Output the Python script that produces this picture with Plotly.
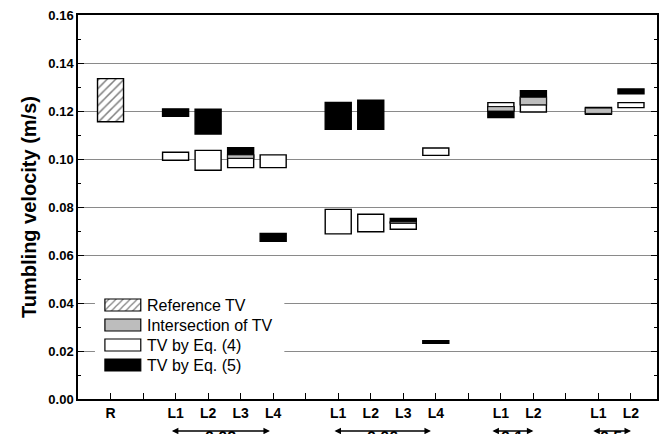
import numpy as np
import plotly.graph_objects as go

# ---- data -------------------------------------------------------------
tick_pos = list(range(1, 18))
tick_labels = ["R", "", "L1", "L2", "L3", "L4", "", "L1", "L2", "L3", "L4",
               "", "L1", "L2", "", "L1", "L2"]

ref_pos = [1]
ref_low = [0.1155]
ref_high = [0.1335]

case_pos = [3, 4, 5, 6, 8, 9, 10, 11, 13, 14, 16, 17]
eq4_low = [0.0995, 0.0953, 0.0964, 0.0964, 0.0688, 0.0697, 0.0707, 0.1015,
           0.1200, 0.1196, 0.1190, 0.1214]
eq4_high = [0.1028, 0.1036, 0.1017, 0.1017, 0.0790, 0.0770, 0.0738, 0.1046,
            0.1235, 0.1257, 0.1212, 0.1235]
eq5_low = [0.1178, 0.1104, 0.1003, 0.0657, 0.1124, 0.1124, 0.0733, 0.0232,
           0.1173, 0.1226, 0.1186, 0.1272]
eq5_high = [0.1209, 0.1207, 0.1047, 0.0690, 0.1236, 0.1245, 0.0752, 0.0243,
            0.1218, 0.1285, 0.1215, 0.1292]

group_labels = ["0.02", "0.06", "0.1", "0.5"]
group_spans = [(2.85, 5.9), (7.85, 10.85), (12.7, 14.0), (15.8, 17.0)]

legend_labels = ["Reference TV", "Intersection of TV", "TV by Eq. (4)", "TV by Eq. (5)"]

# ---- derived ranges ---------------------------------------------------
e4l, e4h = np.array(eq4_low), np.array(eq4_high)
e5l, e5h = np.array(eq5_low), np.array(eq5_high)
int_low = np.maximum(e4l, e5l)
int_high = np.minimum(e4h, e5h)
has_int = int_high > int_low
int_pos = [p for p, h in zip(case_pos, has_int) if h]

FONT = "Arial, Liberation Sans, sans-serif"
GREY = "#bdbdbd"
BW = 0.8
edge = dict(color="black", width=1.4)

fig = go.Figure()

# reference range (hatched)
fig.add_trace(go.Bar(
    x=ref_pos, base=ref_low, y=np.array(ref_high) - np.array(ref_low), width=BW,
    marker=dict(color="white", line=edge,
                pattern=dict(shape="/", fgcolor="black", bgcolor="white",
                             size=6, solidity=0.25)),
    showlegend=False, hoverinfo="skip"))

# Eq. (4) ranges
fig.add_trace(go.Bar(
    x=case_pos, base=e4l, y=e4h - e4l, width=BW,
    marker=dict(color="white", line=edge), showlegend=False, hoverinfo="skip"))

# Eq. (5) ranges
fig.add_trace(go.Bar(
    x=case_pos, base=e5l, y=e5h - e5l, width=BW,
    marker=dict(color="black", line=edge), showlegend=False, hoverinfo="skip"))

# overlap of both ranges
fig.add_trace(go.Bar(
    x=int_pos, base=int_low[has_int], y=(int_high - int_low)[has_int], width=BW,
    marker=dict(color=GREY, line=dict(color="black", width=0.8)),
    showlegend=False, hoverinfo="skip"))

# ---- legend panel (own small axes, pixel-like units) -------------------
LW, LH = 190, 86
rows = [13, 33, 53, 73]
sw_x0, sw_x1, sw_h = 10, 46, 12
fills = ["white", GREY, "white", "black"]

fig.add_trace(go.Bar(
    x=[LW / 2], base=[0], y=[LH], width=LW, xaxis="x2", yaxis="y2",
    marker=dict(color="white", line=dict(width=0)), showlegend=False, hoverinfo="skip"))
for i, (r, c) in enumerate(zip(rows, fills)):
    mk = dict(color=c, line=dict(color="black", width=1.2))
    if i == 0:
        mk["pattern"] = dict(shape="/", fgcolor="black", bgcolor="white", size=5, solidity=0.25)
    fig.add_trace(go.Bar(
        x=[(sw_x0 + sw_x1) / 2], base=[r - sw_h / 2], y=[sw_h], width=sw_x1 - sw_x0,
        xaxis="x2", yaxis="y2", marker=mk, showlegend=False, hoverinfo="skip"))
    fig.add_annotation(x=sw_x1 + 4, y=r, xref="x2", yref="y2", text=legend_labels[i],
                       showarrow=False, xanchor="left", yanchor="middle",
                       font=dict(family=FONT, size=16, color="black"))

# ---- group arrows below the axis --------------------------------------
W, H = 665, 434
ml, mr, mt, mb = 78, 6, 15, 35
plot_w = W - ml - mr
plot_h = H - mt - mb
x_max = 17.8
arrow_py = 431  # pixel row of the arrows
arrow_yp = (H - mb - arrow_py) / plot_h
for lab, (a, b) in zip(group_labels, group_spans):
    fig.add_annotation(x=b, y=arrow_yp, xref="x", yref="paper",
                       ax=-(b - a) * plot_w / x_max, ay=0,
                       text="", showarrow=True,
                       arrowhead=2, arrowside="end+start", arrowsize=1,
                       arrowwidth=1.3, arrowcolor="black")
    fig.add_annotation(x=(a + b) / 2, y=(H - mb - 427) / plot_h, xref="x", yref="paper",
                       text="<b>%s</b>" % lab, showarrow=False, yanchor="top",
                       font=dict(family=FONT, size=16, color="black"))

fig.update_layout(
    width=W, height=H, margin=dict(l=ml, r=mr, t=mt, b=mb),
    paper_bgcolor="white", plot_bgcolor="white", barmode="overlay",
    font=dict(family=FONT, color="black"),
    xaxis=dict(range=[0, x_max], tickmode="array", tickvals=tick_pos,
               ticktext=["<b>%s</b>" % t if t else "" for t in tick_labels],
               ticks="inside", ticklen=6, tickwidth=1.3, tickcolor="black",
               showline=True, linecolor="black", linewidth=1.5, mirror=True,
               showgrid=False, zeroline=False, tickfont=dict(size=14)),
    yaxis=dict(range=[0, 0.16], dtick=0.02, tickformat=".2f",
               tickprefix="<b>", ticksuffix="</b>",
               ticks="inside", ticklen=6, tickwidth=1.3, tickcolor="black",
               minor=dict(dtick=0.01, ticks="inside", ticklen=3, tickcolor="black",
                          tickwidth=1.2, showgrid=False),
               showline=True, linecolor="black", linewidth=1.5, mirror="ticks",
               showgrid=True, gridcolor="#8a8a8a", gridwidth=1.3, zeroline=False,
               tickfont=dict(size=13),
               title=dict(text="<b>Tumbling velocity (m/s)</b>", font=dict(size=20), standoff=6)),
    xaxis2=dict(domain=[(95 - ml) / plot_w, (285 - ml) / plot_w], range=[0, LW], visible=False,
                fixedrange=True, anchor="y2"),
    yaxis2=dict(domain=[(H - mb - 378) / plot_h, (H - mb - 292) / plot_h], range=[LH, 0],
                visible=False, fixedrange=True, anchor="x2"),
)

fig.write_html("out.html")
